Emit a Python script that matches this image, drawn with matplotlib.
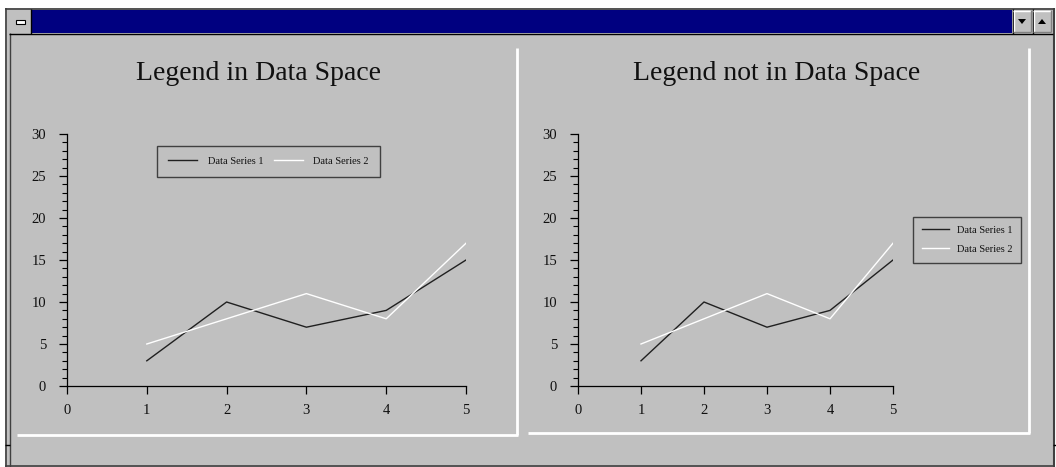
import matplotlib
matplotlib.use("Agg")
import matplotlib.pyplot as plt
from matplotlib.patches import Rectangle, Polygon
from matplotlib.lines import Line2D
from matplotlib.ticker import MultipleLocator

# Chart data
x_values = [1, 2, 3, 4, 5]
series_1 = [3, 10, 7, 9, 15]
series_2 = [5, 8, 11, 8, 17]
series_names = ["Data Series 1", "Data Series 2"]
panel_titles = ["Legend in Data Space", "Legend not in Data Space"]
x_ticks = [0, 1, 2, 3, 4, 5]
y_ticks = [0, 5, 10, 15, 20, 25, 30]

W, H = 1056, 467
FACE = "#c0c0c0"
DARK = "#404040"
SERIF = "Liberation Serif"

fig = plt.figure(figsize=(W / 100, H / 100), dpi=100)
fig.patch.set_facecolor("white")

# Window chrome drawn in pixel coordinates
bg = fig.add_axes([0, 0, 1, 1], zorder=0)
bg.set_xlim(0, W)
bg.set_ylim(H, 0)
bg.axis("off")


def rect(x0, y0, x1, y1, fc, ec="none", lw=0, z=1):
    bg.add_patch(Rectangle((x0, y0), x1 - x0, y1 - y0, facecolor=fc,
                           edgecolor=ec, linewidth=lw, zorder=z))


def hline(x0, x1, y, c, lw=1.0, z=3):
    bg.add_line(Line2D([x0, x1], [y, y], color=c, linewidth=lw, zorder=z,
                       solid_capstyle="butt"))


def vline(x, y0, y1, c, lw=1.0, z=3):
    bg.add_line(Line2D([x, x], [y0, y1], color=c, linewidth=lw, zorder=z,
                       solid_capstyle="butt"))


# window body
rect(5, 8, 1055, 467, FACE)
vline(5.5, 8, 467, DARK, 1.2)
vline(9.5, 33, 467, DARK, 1.0)
hline(5, 1055, 8.5, DARK, 1.2)
vline(1053.5, 8, 467, DARK, 1.5)
hline(5, 1055, 465.5, DARK, 1.2)
hline(5, 10, 445, "black", 1.0)
hline(1053, 1056, 445, "black", 1.0)

# title bar
rect(31, 10, 1012, 33, "#000080", z=2)
hline(9, 1053, 33.5, "black", 1.0)
# system menu box
rect(9, 10, 30, 33, FACE, z=2)
vline(30.5, 9, 34, "black", 1.0)
rect(16, 20, 25, 24, "white", ec="black", lw=0.8, z=4)
# scroll buttons
for bx0, bx1, up in [(1013, 1031, False), (1033, 1051, True)]:
    rect(bx0, 10, bx1, 32, FACE, z=2)
    vline(bx0 - 0.5, 9, 34, "black", 1.0)
    hline(bx0, bx1, 10.5, "white", 1.0, z=4)
    vline(bx0 + 0.5, 10, 32, "white", 1.0, z=4)
    hline(bx0, bx1, 31.5, "#808080", 1.0, z=4)
    vline(bx1 - 0.5, 10, 32, "#808080", 1.0, z=4)
    cx = (bx0 + bx1) / 2
    if up:
        tri = [(cx - 4, 24), (cx + 4, 24), (cx, 19)]
    else:
        tri = [(cx - 4, 19), (cx + 4, 19), (cx, 24)]
    bg.add_patch(Polygon(tri, closed=True, facecolor="black", edgecolor="none", zorder=5))

# panel outlines
vline(517, 48, 435, "white", 2.0)
hline(17, 518, 434.5, "white", 2.0)
vline(1029, 48, 433, "white", 2.0)
hline(528, 1030, 432.5, "white", 2.0)


def px_axes(x0, x1, y_top, y_bot):
    return [x0 / W, 1 - y_bot / H, (x1 - x0) / W, (y_bot - y_top) / H]


panels = [px_axes(67, 466, 134, 386), px_axes(578, 893, 134, 386)]
title_x = [259, 777]

for i, rectpos in enumerate(panels):
    ax = fig.add_axes(rectpos, zorder=2)
    ax.set_facecolor("none")
    ax.plot(x_values, series_1, color="#202020", linewidth=1.0, label=series_names[0])
    ax.plot(x_values, series_2, color="white", linewidth=1.0, label=series_names[1])
    ax.set_xlim(0, 5)
    ax.set_ylim(0, 30)
    ax.set_xticks(x_ticks)
    ax.set_yticks(y_ticks)
    ax.yaxis.set_minor_locator(MultipleLocator(1))
    for s in ("top", "right"):
        ax.spines[s].set_visible(False)
    for s in ("left", "bottom"):
        ax.spines[s].set_color("black")
        ax.spines[s].set_linewidth(0.9)
    ax.tick_params(axis="both", which="major", length=6, width=0.9, color="black",
                   labelsize=10.5, labelcolor="#101010")
    ax.tick_params(axis="y", which="minor", length=3.5, width=0.8, color="black")
    ax.tick_params(axis="y", which="major", pad=9)
    ax.tick_params(axis="x", which="major", pad=7)
    for lab in ax.get_xticklabels() + ax.get_yticklabels():
        lab.set_fontfamily(SERIF)

    fig.text(title_x[i] / W, 1 - 73 / H, panel_titles[i], ha="center", va="center",
             fontsize=20, fontfamily=SERIF, color="#101010")

    if i == 0:
        leg = ax.legend(loc="upper left", bbox_to_anchor=(1.13, 28.6),
                        bbox_transform=ax.transData, ncol=2, borderaxespad=0,
                        prop={"family": SERIF, "size": 7.5},
                        handlelength=2.8, handletextpad=1.0, columnspacing=1.0,
                        borderpad=1.05, frameon=True, fancybox=False)
    else:
        leg = ax.legend(loc="upper left", bbox_to_anchor=(1.063, 0.671),
                        bbox_transform=ax.transAxes, ncol=1, borderaxespad=0,
                        prop={"family": SERIF, "size": 7.5},
                        handlelength=2.6, handletextpad=0.8, labelspacing=0.9,
                        borderpad=0.85, frameon=True, fancybox=False)
    frame = leg.get_frame()
    frame.set_facecolor("none")
    frame.set_edgecolor("#202020")
    frame.set_linewidth(1.0)
    for t in leg.get_texts():
        t.set_color("#101010")

fig.savefig("out.png", dpi=100, facecolor=fig.get_facecolor())
